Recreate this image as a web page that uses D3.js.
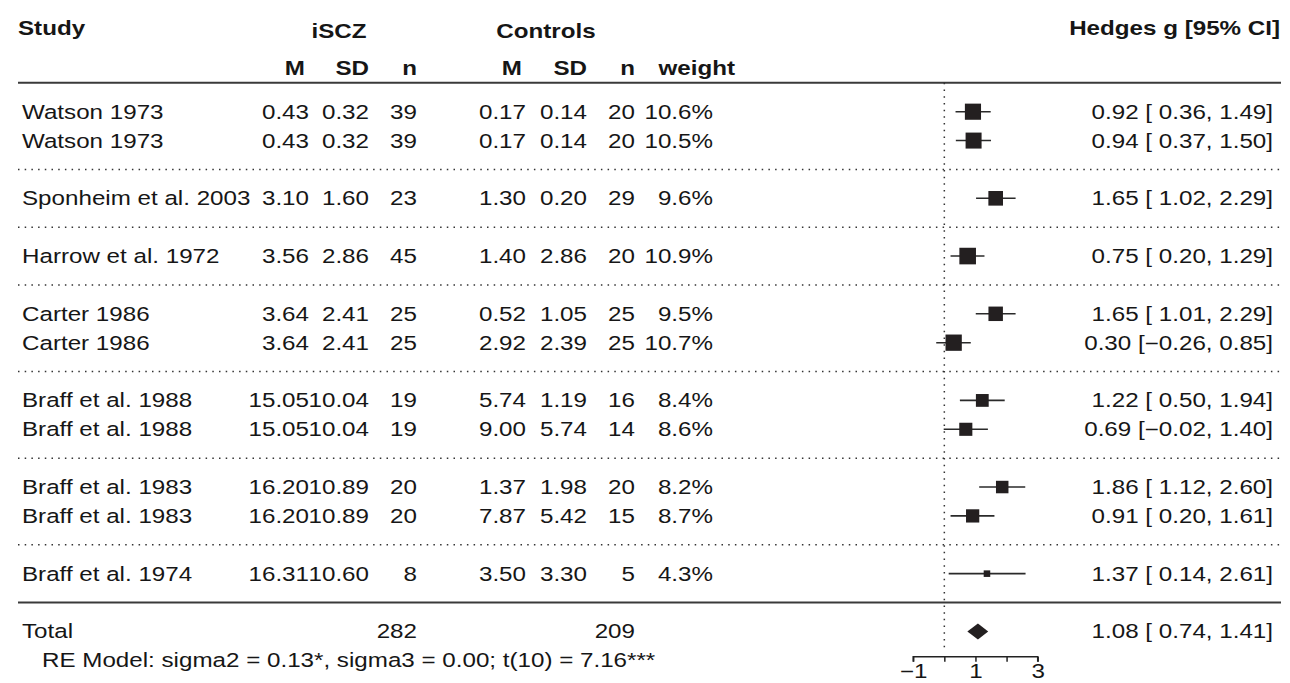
<!DOCTYPE html>
<html>
<head>
<meta charset="utf-8">
<script src="https://cdn.jsdelivr.net/npm/d3@7"></script>
<style>
  body { margin: 0; background: #fff; }
  text { font-family: "Liberation Sans", Arial, sans-serif; fill: #161616; }
</style>
</head>
<body>
<div id="container"></div>
<script>
/* CONSTANTS AND GLOBALS */
const width = 1290,
  height = 683,
  fontSize = 19.5,
  stretch = 1.24; // text in the picture is wider than plain Arial

// one row per effect size, group = study cluster (dotted line between groups)
const studies = ["Watson 1973", "Watson 1973", "Sponheim et al. 2003", "Harrow et al. 1972",
  "Carter 1986", "Carter 1986", "Braff et al. 1988", "Braff et al. 1988",
  "Braff et al. 1983", "Braff et al. 1983", "Braff et al. 1974"];
const groups = [1, 1, 2, 3, 4, 4, 5, 5, 6, 6, 7];
const iM  = [0.43, 0.43, 3.10, 3.56, 3.64, 3.64, 15.05, 15.05, 16.20, 16.20, 16.31];
const iSD = [0.32, 0.32, 1.60, 2.86, 2.41, 2.41, 10.04, 10.04, 10.89, 10.89, 10.60];
const iN  = [39, 39, 23, 45, 25, 25, 19, 19, 20, 20, 8];
const cM  = [0.17, 0.17, 1.30, 1.40, 0.52, 2.92, 5.74, 9.00, 1.37, 7.87, 3.50];
const cSD = [0.14, 0.14, 0.20, 2.86, 1.05, 2.39, 1.19, 5.74, 1.98, 5.42, 3.30];
const cN  = [20, 20, 29, 20, 25, 25, 16, 14, 20, 15, 5];
const weights = [10.6, 10.5, 9.6, 10.9, 9.5, 10.7, 8.4, 8.6, 8.2, 8.7, 4.3];
const g  = [0.92, 0.94, 1.65, 0.75, 1.65, 0.30, 1.22, 0.69, 1.86, 0.91, 1.37];
const lo = [0.36, 0.37, 1.02, 0.20, 1.01, -0.26, 0.50, -0.02, 1.12, 0.20, 0.14];
const hi = [1.49, 1.50, 2.29, 1.29, 2.29, 0.85, 1.94, 1.40, 2.60, 1.61, 2.61];

const total = { label: "Total", iN: 282, cN: 209, g: 1.08, lo: 0.74, hi: 1.41 };
const modelText = "RE Model: sigma2 = 0.13*, sigma3 = 0.00; t(10) = 7.16***";
const xTicks = [-1, 0, 1, 2, 3];

// row index: one blank row between groups
let r = 0;
const rows = groups.map((grp, i) => {
  if (i > 0 && grp !== groups[i - 1]) r += 1;
  return r++;
});
const totalRow = rows[rows.length - 1] + 2;
const data = studies.map((s, i) => ({
  study: s, iM: iM[i], iSD: iSD[i], iN: iN[i], cM: cM[i], cSD: cSD[i], cN: cN[i],
  w: weights[i], g: g[i], lo: lo[i], hi: hi[i], row: rows[i]
}));
// separators sit halfway between groups
const seps = rows.filter((row, i) => i > 0 && groups[i] !== groups[i - 1]).map(row => row - 1);

/* SCALES */
const yScale = d3.scaleLinear()
  .domain([0, totalRow])
  .range([111.7, 631.4]);

const xScale = d3.scaleLinear()
  .domain([-1, 3])
  .range([913.2, 1037.7]);

const sizeScale = d3.scaleLinear()
  .domain([0, d3.max(weights)])
  .range([0, 16.6]);

const f2 = d3.format(".2f"),
  fci = d3.format(" .2f");
const ciText = (g, lo, hi) => `${f2(g)} [${fci(lo)}, ${fci(hi)}]`;

// right edges of the table columns
const col = { iM: 309, iSD: 369, iN: 417, cM: 526, cSD: 587, cN: 635, w: 713 };

/* HTML ELEMENTS */
const svg = d3.select("#container")
  .append("svg")
  .attr("width", width)
  .attr("height", height);

// text helper, stretched horizontally
function txt(x, y, s, anchor = "start", bold = false) {
  svg.append("text")
    .attr("transform", `translate(${x},${y}) scale(${stretch},1)`)
    .attr("text-anchor", anchor)
    .attr("font-size", fontSize)
    .attr("font-weight", bold ? "bold" : "normal")
    .text(s);
}

// lines
const lineX0 = 18, lineX1 = 1281;
[-1, totalRow - 1].forEach(row => {
  svg.append("line")
    .attr("x1", lineX0).attr("x2", lineX1)
    .attr("y1", yScale(row)).attr("y2", yScale(row))
    .attr("stroke", "#3a3a3a").attr("stroke-width", 2);
});

svg.selectAll("line.sep")
  .data(seps)
  .join("line")
  .attr("class", "sep")
  .attr("x1", lineX0).attr("x2", lineX1)
  .attr("y1", d => yScale(d)).attr("y2", d => yScale(d))
  .attr("stroke", "#333")
  .attr("stroke-width", 1.5)
  .attr("stroke-dasharray", "1.5,5.2");

// zero line
svg.append("line")
  .attr("x1", xScale(0)).attr("x2", xScale(0))
  .attr("y1", yScale(-1)).attr("y2", yScale(totalRow) + 18)
  .attr("stroke", "#333")
  .attr("stroke-width", 1.5)
  .attr("stroke-dasharray", "1.5,5.2");

// headers
txt(18, 35, "Study", "start", true);
txt(339, 38, "iSCZ", "middle", true);
txt(546, 38, "Controls", "middle", true);
txt(1280, 35, "Hedges g [95% CI]", "end", true);
[["M", col.iM - 4], ["SD", col.iSD], ["n", col.iN], ["M", col.cM - 4], ["SD", col.cSD],
  ["n", col.cN], ["weight", 735]]
  .forEach(([s, x]) => txt(x, yScale(-1) - 8, s, "end", true));

// table text
const base = 7;
data.forEach(d => {
  const y = yScale(d.row) + base;
  txt(22, y, d.study);
  txt(col.iM, y, f2(d.iM), "end");
  txt(col.iSD, y, f2(d.iSD), "end");
  txt(col.iN, y, d.iN, "end");
  txt(col.cM, y, f2(d.cM), "end");
  txt(col.cSD, y, f2(d.cSD), "end");
  txt(col.cN, y, d.cN, "end");
  txt(col.w, y, d.w.toFixed(1) + "%", "end");
  txt(1273, y, ciText(d.g, d.lo, d.hi), "end");
});

txt(22, yScale(totalRow) + base, total.label);
txt(col.iN, yScale(totalRow) + base, total.iN, "end");
txt(col.cN, yScale(totalRow) + base, total.cN, "end");
txt(1273, yScale(totalRow) + base, ciText(total.g, total.lo, total.hi), "end");
txt(42, yScale(totalRow + 1) + base, modelText);

// whiskers
svg.selectAll("line.ci")
  .data(data)
  .join("line")
  .attr("class", "ci")
  .attr("x1", d => xScale(d.lo)).attr("x2", d => xScale(d.hi))
  .attr("y1", d => yScale(d.row)).attr("y2", d => yScale(d.row))
  .attr("stroke", "#2a2a2a")
  .attr("stroke-width", 1.6);

// squares sized by weight
svg.selectAll("rect.est")
  .data(data)
  .join("rect")
  .attr("class", "est")
  .attr("x", d => xScale(d.g) - sizeScale(d.w) / 2)
  .attr("y", d => yScale(d.row) - sizeScale(d.w) / 2)
  .attr("width", d => sizeScale(d.w))
  .attr("height", d => sizeScale(d.w))
  .attr("fill", "#231f20");

// summary diamond
const ty = yScale(totalRow);
svg.append("polygon")
  .attr("points", [
    [xScale(total.lo), ty], [xScale(total.g), ty - 8],
    [xScale(total.hi), ty], [xScale(total.g), ty + 8]
  ].join(" "))
  .attr("fill", "#231f20");

// axis
const xAxis = d3.axisBottom(xScale)
  .tickValues(xTicks)
  .tickSize(5)
  .tickFormat(d => (d % 2 !== 0 ? d3.format("d")(d) : ""));
const ax = svg.append("g")
  .attr("transform", `translate(0,${yScale(totalRow) + 25.3})`)
  .call(xAxis);
ax.select(".domain").attr("stroke", "#222").attr("stroke-width", 1.5)
  .attr("d", `M${xScale(-1)},5V0H${xScale(3)}V5`);
ax.selectAll(".tick line").attr("stroke", "#222").attr("stroke-width", 1.5);
ax.selectAll(".tick text")
  .attr("font-size", fontSize)
  .attr("font-family", "Liberation Sans, Arial, sans-serif")
  .attr("fill", "#161616")
  .attr("y", 0)
  .attr("dy", 0)
  .attr("transform", `translate(0,21) scale(${stretch},1)`)
  .attr("x", 0);
</script>
</body>
</html>
